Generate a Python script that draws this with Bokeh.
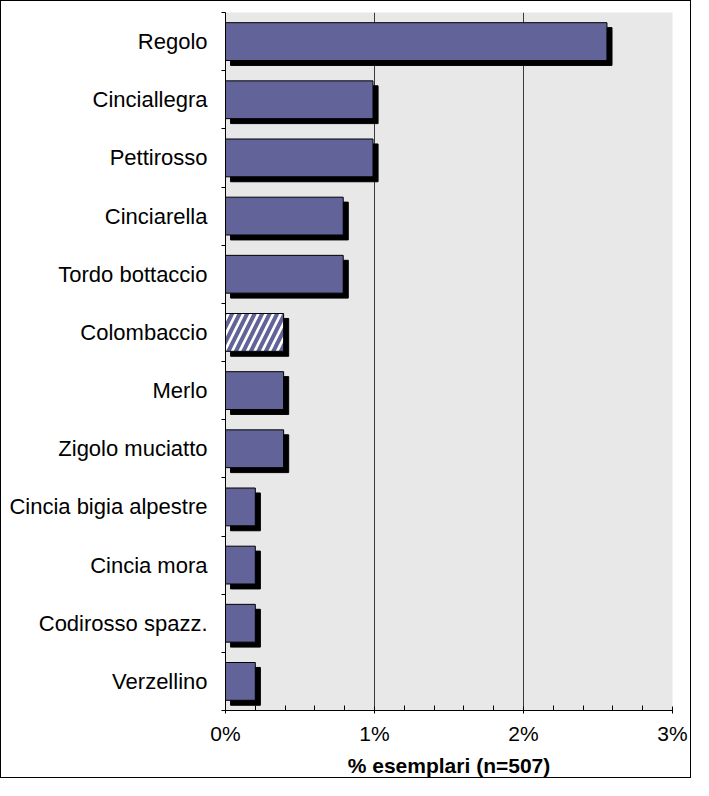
from bokeh.plotting import figure
from bokeh.models import FixedTicker, ColumnDataSource, Range1d
from bokeh.embed import file_html
from bokeh.resources import INLINE

# ---- data (top to bottom) ----
species = ["Regolo", "Cinciallegra", "Pettirosso", "Cinciarella", "Tordo bottaccio",
           "Colombaccio", "Merlo", "Zigolo muciatto", "Cincia bigia alpestre",
           "Cincia mora", "Codirosso spazz.", "Verzellino"]
percent = [2.56, 0.99, 0.99, 0.79, 0.79, 0.39, 0.39, 0.39, 0.20, 0.20, 0.20, 0.20]
hatched_species = ["Colombaccio"]
x_ticks = [0, 1, 2, 3]
x_tick_labels = ["0%", "1%", "2%", "3%"]
x_minor = [0.2, 0.4, 0.6, 0.8, 1.2, 1.4, 1.6, 1.8, 2.2, 2.4, 2.6, 2.8]
x_title = "% esemplari (n=507)"

BAR = "#626399"
FONT = "Liberation Sans"
n = len(species)
ypos = [n - i - 0.5 for i in range(n)]
sx = 0.034   # shadow offset in data units (x)
sy = 0.085   # shadow offset in data units (y)

src = ColumnDataSource(dict(
    y=ypos, right=percent,
    sy=[v - sy for v in ypos], sright=[v + sx for v in percent],
    fill=["white" if s in hatched_species else BAR for s in species],
    hatch=["/" if s in hatched_species else " " for s in species],
))

p = figure(width=691, height=778, output_backend="svg", toolbar_location=None,
           x_range=Range1d(0, 3), y_range=Range1d(0, n),
           min_border_left=224, min_border_right=20, min_border_top=11, min_border_bottom=60)
p.styles = {"border": "1px solid #000000"}
p.background_fill_color = "#e8e8e8"
p.border_fill_color = "white"
p.outline_line_color = None

# shadows
p.hbar(y="sy", left=sx, right="sright", height=0.65, source=src,
       fill_color="black", line_color="black")
# bars
p.hbar(y="y", left=0, right="right", height=0.65, source=src,
       fill_color="fill", line_color="black", line_width=1,
       hatch_pattern="hatch", hatch_color=BAR, hatch_weight=4, hatch_scale=15)

# x axis
p.xaxis.ticker = FixedTicker(ticks=x_ticks, minor_ticks=x_minor)
p.xaxis.major_label_overrides = {t: l for t, l in zip(x_ticks, x_tick_labels)}
p.xaxis.major_tick_in = 4
p.xaxis.major_tick_out = 3
p.xaxis.minor_tick_in = 5
p.xaxis.minor_tick_out = 0
p.xaxis.axis_line_color = "black"
p.xaxis.major_tick_line_color = "black"
p.xaxis.minor_tick_line_color = "black"
p.xaxis.major_label_text_font = FONT
p.xaxis.major_label_text_font_size = "21px"
p.xaxis.major_label_text_color = "black"
p.xaxis.major_label_standoff = 8
p.xaxis.axis_label = x_title
p.xaxis.axis_label_text_font = FONT
p.xaxis.axis_label_text_font_size = "21px"
p.xaxis.axis_label_text_font_style = "bold"
p.xaxis.axis_label_text_color = "black"
p.xaxis.axis_label_standoff = 6

# y axis
p.yaxis.ticker = FixedTicker(ticks=ypos, minor_ticks=list(range(n + 1)))
p.yaxis.major_label_overrides = {y: s for y, s in zip(ypos, species)}
p.yaxis.major_tick_in = 0
p.yaxis.major_tick_out = 0
p.yaxis.minor_tick_in = 0
p.yaxis.minor_tick_out = 4
p.yaxis.axis_line_color = "black"
p.yaxis.minor_tick_line_color = "black"
p.yaxis.major_label_text_font = FONT
p.yaxis.major_label_text_font_size = "22px"
p.yaxis.major_label_text_color = "black"
p.yaxis.major_label_standoff = 14

p.xgrid.ticker = FixedTicker(ticks=x_ticks)
p.xgrid.grid_line_color = "#3a3a3a"
p.xgrid.grid_line_width = 1
p.ygrid.grid_line_color = None

open("out.html", "w").write(file_html(p, INLINE))
